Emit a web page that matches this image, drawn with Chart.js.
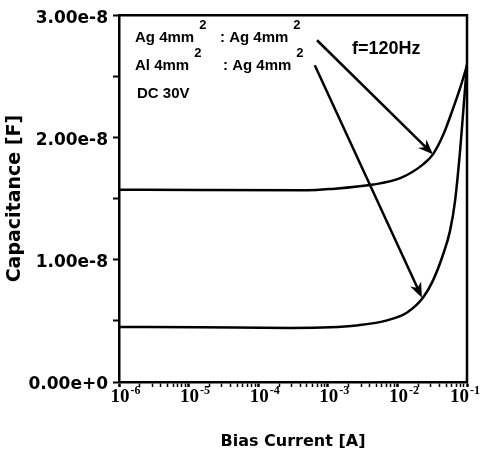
<!DOCTYPE html>
<html>
<head>
<meta charset="utf-8">
<script src="https://cdn.jsdelivr.net/npm/chart.js@4"></script>
<style>
    html, body { margin: 0; padding: 0; background: #fff; }
    #wrap { width: 482px; height: 461px; }
</style>
</head>
<body>
<div id="wrap"><canvas id="capChart"></canvas></div>
<script>
// Ag 4mm2 : Ag 4mm2
const currentUpper = [1e-6, 1.45e-5, 5.0e-4, 1.07e-3, 4.5e-3, 1.1e-2, 2.34e-2, 3.24e-2, 4.57e-2, 6.3e-2, 8.5e-2, 1e-1];
const capUpper     = [1.573e-8, 1.570e-8, 1.568e-8, 1.578e-8, 1.615e-8, 1.667e-8, 1.780e-8, 1.862e-8, 2.024e-8, 2.236e-8, 2.455e-8, 2.59e-8];

// Al 4mm2 : Ag 4mm2
const currentLower = [1e-6, 1.45e-5, 2.9e-4, 1.07e-3, 2.6e-3, 7.1e-3, 1.38e-2, 2.34e-2, 3.24e-2, 4.57e-2, 5.7e-2, 6.73e-2, 7.94e-2, 9.06e-2, 1e-1];
const capLower     = [0.450e-8, 0.447e-8, 0.442e-8, 0.447e-8, 0.463e-8, 0.504e-8, 0.569e-8, 0.691e-8, 0.829e-8, 1.049e-8, 1.236e-8, 1.480e-8, 1.886e-8, 2.293e-8, 2.60e-8];

const xTickExponents = [-6, -5, -4, -3, -2, -1];
const yTickValues    = [0, 1e-8, 2e-8, 3e-8];
const yTickLabels    = ["0.00e+0", "1.00e-8", "2.00e-8", "3.00e-8"];

// arrows: [tail, head] in data coordinates
const arrows = [
    [[7.0e-4, 2.795e-8], [3.24e-2, 1.862e-8]],
    [[6.5e-4, 2.59e-8],  [2.25e-2, 0.69e-8]],
];

const ink = "#000";

function toPoints(xs, ys) {
    return xs.map((x, i) => ({ x: x, y: ys[i] }));
}

function drawSup(ctx, x, base, main, sup) {
    ctx.font = 'bold 15px "Liberation Sans"';
    ctx.fillText(main, x, base);
    const w = ctx.measureText(main).width;
    ctx.font = 'bold 13px "Liberation Sans"';
    ctx.fillText(sup, x + w + 5, base - 13);
}

function drawArrow(ctx, x0, y0, x1, y1) {
    const a = Math.atan2(y1 - y0, x1 - x0);
    const len = 15, half = 6;
    const bx = x1 - len * Math.cos(a), by = y1 - len * Math.sin(a);
    const nx = x1 - 0.7 * len * Math.cos(a), ny = y1 - 0.7 * len * Math.sin(a);

    ctx.beginPath();
    ctx.moveTo(x0, y0);
    ctx.lineTo(nx, ny);
    ctx.lineWidth = 2.5;
    ctx.stroke();

    ctx.beginPath();
    ctx.moveTo(x1, y1);
    ctx.lineTo(bx - half * Math.sin(a), by + half * Math.cos(a));
    ctx.lineTo(nx, ny);
    ctx.lineTo(bx + half * Math.sin(a), by - half * Math.cos(a));
    ctx.closePath();
    ctx.fill();
}

const decorations = {
    id: "decorations",
    afterDraw(chart) {
        const ctx = chart.ctx;
        const ca  = chart.chartArea;
        const xs  = chart.scales.x;
        const ys  = chart.scales.y;

        ctx.save();
        ctx.strokeStyle = ink;
        ctx.fillStyle = ink;

        // top and right frame
        ctx.lineWidth = 2.5;
        ctx.beginPath();
        ctx.moveTo(ca.left, ca.top);
        ctx.lineTo(ca.right, ca.top);
        ctx.lineTo(ca.right, ca.bottom);
        ctx.stroke();

        // x tick labels 10^n
        ctx.textBaseline = "alphabetic";
        ctx.textAlign = "left";
        xTickExponents.forEach(p => {
            const px = xs.getPixelForValue(Math.pow(10, p));
            ctx.font = 'bold 19px "Liberation Serif"';
            const baseW = ctx.measureText("10").width;
            ctx.font = 'bold 12px "Liberation Serif"';
            const expW = ctx.measureText(String(p)).width;
            let left = px - baseW / 2 + 1;
            if (left + baseW + 1 + expW > chart.width - 2) left = chart.width - 2 - baseW - 1 - expW;
            ctx.font = 'bold 19px "Liberation Serif"';
            ctx.fillText("10", left, ca.bottom + 20);
            ctx.font = 'bold 12px "Liberation Serif"';
            ctx.fillText(String(p), left + baseW + 1, ca.bottom + 12);
        });

        // annotation text
        drawSup(ctx, ca.left + 16,  ca.top + 27, "Ag 4mm", "2");
        drawSup(ctx, ca.left + 101, ca.top + 27, ": Ag 4mm", "2");
        drawSup(ctx, ca.left + 16,  ca.top + 55, "Al 4mm", "2");
        drawSup(ctx, ca.left + 104, ca.top + 55, ": Ag 4mm", "2");
        ctx.font = 'bold 15px "Liberation Sans"';
        ctx.fillText("DC 30V", ca.left + 18, ca.top + 83);
        ctx.font = 'bold 18px "Liberation Sans"';
        ctx.fillText("f=120Hz", ca.left + 233, ca.top + 39);

        arrows.forEach(([t, h]) => {
            drawArrow(ctx,
                xs.getPixelForValue(t[0]), ys.getPixelForValue(t[1]),
                xs.getPixelForValue(h[0]), ys.getPixelForValue(h[1]));
        });

        ctx.restore();
    }
};

const lineStyle = {
    borderColor: ink,
    borderWidth: 2.5,
    pointRadius: 0,
    fill: false,
    cubicInterpolationMode: "monotone",
};

new Chart(document.getElementById("capChart"), {
    type: "line",
    data: {
        datasets: [
            Object.assign({ label: "Ag 4mm2 : Ag 4mm2", data: toPoints(currentUpper, capUpper) }, lineStyle),
            Object.assign({ label: "Al 4mm2 : Ag 4mm2", data: toPoints(currentLower, capLower) }, lineStyle),
        ]
    },
    options: {
        responsive: true,
        maintainAspectRatio: false,
        animation: false,
        devicePixelRatio: 1,
        layout: { padding: { left: 4, right: 15, top: 13, bottom: 0 } },
        plugins: { legend: { display: false }, tooltip: { enabled: false } },
        scales: {
            x: {
                type: "logarithmic",
                min: 1e-6,
                max: 1e-1,
                border: { display: true, color: ink, width: 2.5 },
                grid: {
                    drawOnChartArea: false,
                    drawTicks: true,
                    tickLength: 5,
                    tickColor: ink,
                    tickWidth: (c) => (c.tick && c.tick.major ? 2.5 : 1.5),
                },
                ticks: { display: false },
                afterBuildTicks: (s) => {
                    const t = [];
                    for (let e = -6; e < -1; e++) {
                        for (let k = 1; k < 10; k++) {
                            t.push({ value: k * Math.pow(10, e), major: k === 1 });
                        }
                    }
                    t.push({ value: 1e-1, major: true });
                    s.ticks = t;
                },
                afterFit: (s) => { s.height = 79; },
                title: {
                    display: true,
                    text: "Bias Current [A]",
                    color: ink,
                    font: { family: "DejaVu Sans", weight: "bold", size: 16 },
                    padding: { top: 0, bottom: 10 },
                },
            },
            y: {
                type: "linear",
                min: 0,
                max: 3e-8,
                border: { display: true, color: ink, width: 2.5 },
                grid: {
                    drawOnChartArea: false,
                    drawTicks: true,
                    tickLength: 6,
                    tickColor: ink,
                    tickWidth: 2,
                },
                ticks: {
                    stepSize: 0.5e-8,
                    color: ink,
                    padding: 5,
                    labelOffset: 3,
                    font: { family: "DejaVu Sans", weight: "bold", size: 17 },
                    callback: (v) => {
                        const i = yTickValues.findIndex(t => Math.abs(t - v) < 1e-12);
                        return i >= 0 ? yTickLabels[i] : "";
                    },
                },
                afterFit: (s) => { s.width = 115; },
                title: {
                    display: true,
                    text: "Capacitance [F]",
                    color: ink,
                    font: { family: "DejaVu Sans", weight: "bold", size: 19 },
                    padding: { top: 0, bottom: 0 },
                },
            },
        },
    },
    plugins: [decorations],
});
</script>
</body>
</html>
